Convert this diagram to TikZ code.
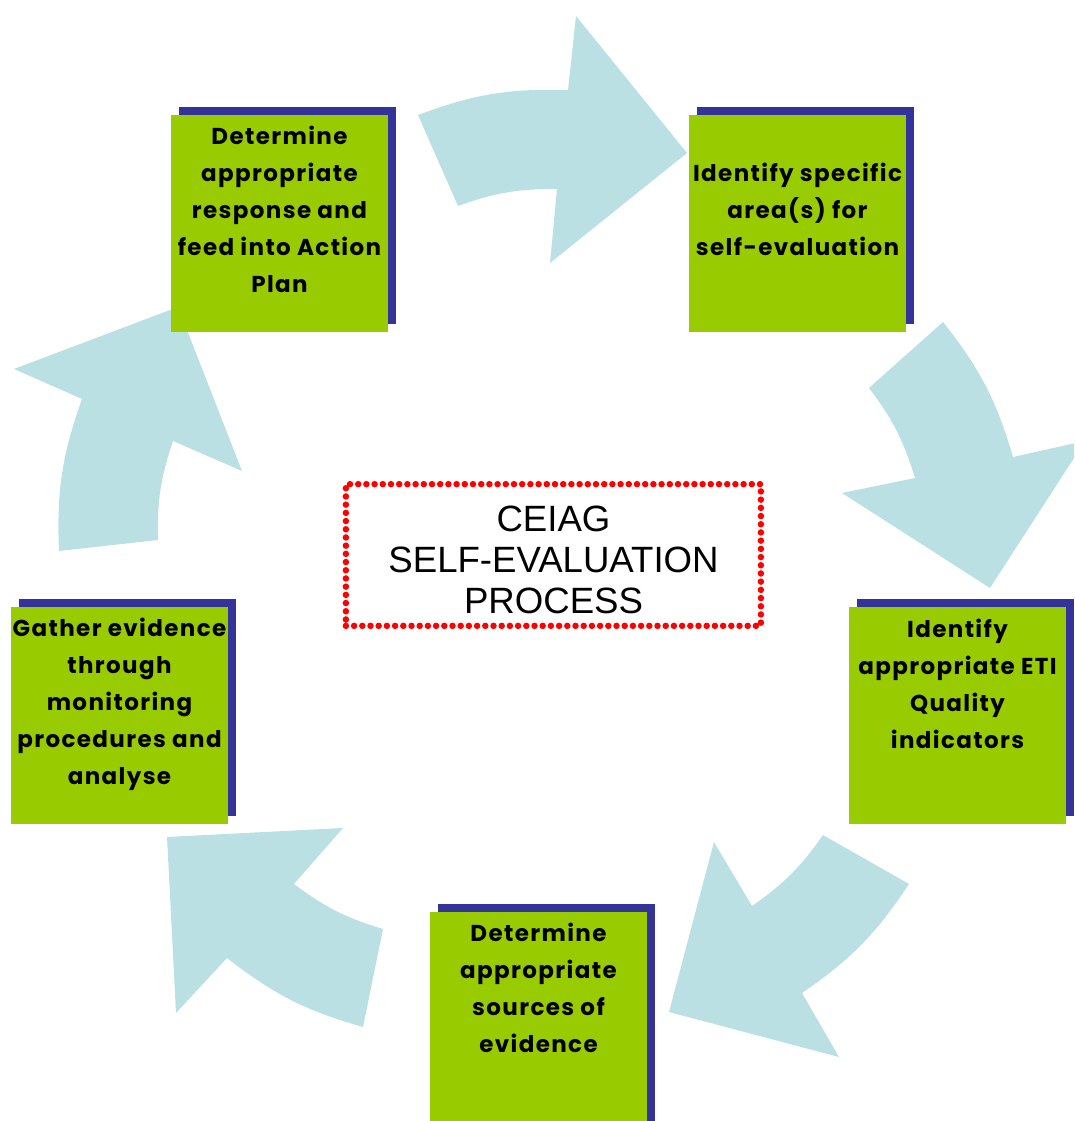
\documentclass[tikz,border=0pt]{standalone}
\usepackage{fontspec}
\setmainfont{Liberation Sans}
\newfontfamily\boxfont[LetterSpace=6]{Poppins}
\usetikzlibrary{shadows}
\definecolor{boxgreen}{HTML}{99CC00}
\definecolor{shadowblue}{HTML}{333399}
\definecolor{arrowc}{HTML}{BBE0E3}
\begin{document}
\begin{tikzpicture}[x=1pt,y=-1pt,
  arrowshape/.style={fill=arrowc, draw=none},
  gbox/.style={fill=boxgreen, draw=none, minimum width=217pt, minimum height=217pt,
    inner sep=0pt, anchor=north west,
    drop shadow={shadow xshift=8pt, shadow yshift=8pt, fill=shadowblue, opacity=1}},
  btxt/.style={inner sep=0pt, anchor=base, font=\boxfont\bfseries\fontsize{23}{37}\selectfont},
  dotbox/.style={draw=red, line width=6.5pt, dash pattern=on 0pt off 8.2pt, line cap=round,
    minimum width=415pt, minimum height=141.7pt, inner sep=0pt},
  ctxt/.style={inner sep=0pt, anchor=base, font=\fontsize{36.6}{41}\selectfont}]
\useasboundingbox (0,0) rectangle (1074,1121);
\clip (0,0) rectangle (1074,1121);
% curved arrows
\fill[arrowshape] (418,115) to[bend left=11] (568,90) -- (576,16) -- (687,153) -- (550,263)
  -- (557,189) to[bend right=10] (458,206) -- cycle;
\fill[arrowshape] (943,322) to[bend left=11] (1013,457) -- (1085,441) -- (990,588) -- (842,493)
  -- (915,478) to[bend right=10] (869,388) -- cycle;
\fill[arrowshape] (909,884) to[bend left=11] (802,993) -- (839,1057) -- (669,1012) -- (714,842)
  -- (752,906) to[bend right=10] (823,835) -- cycle;
\fill[arrowshape] (363,1027) to[bend left=11] (227,958) -- (176,1013) -- (167,837) -- (343,828)
  -- (294,884) to[bend right=10] (383,929) -- cycle;
\fill[arrowshape] (59,551) to[bend left=11] (82,399) -- (14,369) -- (178,307) -- (242,471)
  -- (173,441) to[bend right=10] (158,540) -- cycle;
% boxes
\node[gbox] (b1) at (171,115) {};
\node[gbox] (b2) at (689,115) {};
\node[gbox] (b3) at (849,607) {};
\node[gbox] (b4) at (430,912) {};
\node[gbox] (b5) at (11,607) {};
\node[btxt] (t1) at (279.5,144.3) {\begin{tabular}[t]{@{}c@{}}Determine\\appropriate\\response and\\feed into Action\\Plan\end{tabular}};
\node[btxt] (t2) at (797.5,181) {\begin{tabular}[t]{@{}c@{}}Identify specific\\area(s) for\\self-evaluation\end{tabular}};
\node[btxt] (t3) at (957.5,637) {\begin{tabular}[t]{@{}c@{}}Identify\\appropriate ETI\\Quality\\indicators\end{tabular}};
\node[btxt] (t4) at (538.5,941) {\begin{tabular}[t]{@{}c@{}}Determine\\appropriate\\sources of\\evidence\end{tabular}};
\node[btxt] (t5) at (119.5,636.7) {\begin{tabular}[t]{@{}c@{}}Gather evidence\\through\\monitoring\\procedures and\\analyse\end{tabular}};
% centre
\node[dotbox] (c) at (553.4,555) {};
\node[ctxt] (ct) at (553.5,531) {\begin{tabular}[t]{@{}c@{}}CEIAG\\SELF-EVALUATION\\PROCESS\end{tabular}};
\end{tikzpicture}
\end{document}
